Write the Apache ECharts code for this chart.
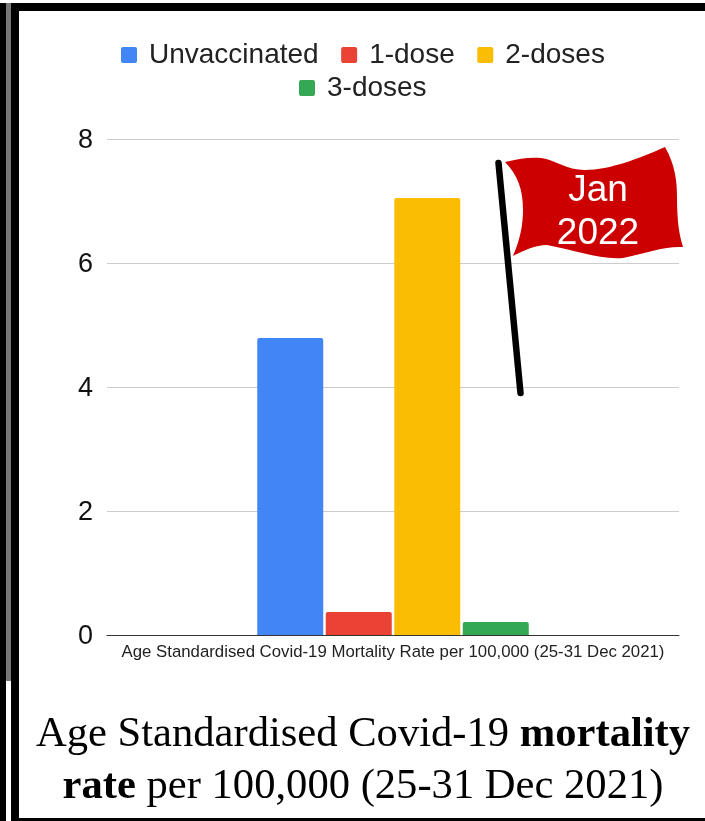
<!DOCTYPE html>
<html>
<head>
<meta charset="utf-8">
<style>html,body{margin:0;padding:0;background:#fff}#c{width:705px;height:821px}</style>
<script src="https://cdn.jsdelivr.net/npm/echarts@6/dist/echarts.min.js"></script>
</head>
<body>
<div id="c"></div>
<script>
const categories = ['Age Standardised Covid-19 Mortality Rate per 100,000 (25-31 Dec 2021)'];
const unvaccinated = [4.79];
const oneDose = [0.37];
const twoDoses = [7.05];
const threeDoses = [0.21];
const yTicks = [0, 2, 4, 6, 8];
const flagLabel = 'Jan\n2022';

const flagPath = 'M505 162 C520 158 532 157 541 158 C556 160 566 170 585 170 C610 170 640 158 665 147 ' +
  'C675 165 677 180 677 197 C677 220 679 235 683 247 C665 246 650 252 623 258 ' +
  'C600 260 575 250 547 245 C535 245 525 250 513 256 C520 240 523 225 523 210 C523 190 518 175 505 162 Z';
echarts.graphic.registerShape('flagShape', echarts.graphic.extendPath(flagPath));

const chart = echarts.init(document.getElementById('c'), null, {renderer: 'canvas'});
const bar = (name, data, color) => ({
  name, data, type: 'bar', barWidth: 66, barGap: '3.8%',
  itemStyle: {color, borderRadius: [2, 2, 0, 0]}
});
const legendBase = {
  icon: 'path://M2 0H14A2 2 0 0 1 16 2V14A2 2 0 0 1 14 16H2A2 2 0 0 1 0 14V2A2 2 0 0 1 2 0Z',
  itemWidth: 16, itemHeight: 16, itemGap: 22.5,
  textStyle: {fontFamily: 'Liberation Sans', fontSize: 28, color: '#222', padding: [0, 0, 0, 7]}
};
const black = {fill: '#000'};
chart.setOption({
  animation: false,
  backgroundColor: '#fff',
  grid: {left: 107, right: 26, top: 139, bottom: 186},
  legend: [
    Object.assign({}, legendBase, {data: ['Unvaccinated', '1-dose', '2-doses'], left: 116, top: 36}),
    Object.assign({}, legendBase, {data: ['3-doses'], left: 294, top: 69})
  ],
  title: {
    left: 358, textAlign: 'center', top: 704,
    text: '{a|Age Standardised Covid-19 }{b|mortality}\n{b|rate}{a| per 100,000 (25-31 Dec 2021)}',
    textStyle: {
      lineHeight: 52, fontWeight: 'normal',
      rich: {
        a: {fontFamily: 'Liberation Serif', fontSize: 42.6, fontWeight: 'normal', color: '#000', lineHeight: 52},
        b: {fontFamily: 'Liberation Serif', fontSize: 42.6, fontWeight: 'bold', color: '#000', lineHeight: 52}
      }
    }
  },
  xAxis: {
    type: 'category', data: categories,
    axisTick: {show: false},
    axisLine: {lineStyle: {color: '#333', width: 1}},
    axisLabel: {fontFamily: 'Liberation Sans', fontSize: 16.8, color: '#222', margin: 9, interval: 0}
  },
  yAxis: {
    type: 'value', min: yTicks[0], max: yTicks[yTicks.length - 1], interval: 2,
    axisLine: {show: false}, axisTick: {show: false},
    axisLabel: {
      margin: 14, formatter: '{v|{value}}',
      rich: {v: {fontFamily: 'Liberation Sans', fontSize: 27, color: '#111', padding: [4, 0, 0, 0]}}
    },
    splitLine: {lineStyle: {color: '#ccc', width: 1}}
  },
  series: [
    bar('Unvaccinated', unvaccinated, '#4285F4'),
    bar('1-dose', oneDose, '#EA4335'),
    bar('2-doses', twoDoses, '#FBBC04'),
    bar('3-doses', threeDoses, '#34A853')
  ],
  graphic: [
    {type: 'rect', z: 50, shape: {x: 0, y: 3, width: 6, height: 818}, style: black},
    {type: 'rect', z: 50, shape: {x: 6, y: 3, width: 5, height: 678}, style: {fill: '#777'}},
    {type: 'rect', z: 50, shape: {x: 11, y: 3, width: 8, height: 818}, style: black},
    {type: 'rect', z: 50, shape: {x: 11, y: 3, width: 694, height: 8}, style: black},
    {type: 'rect', z: 50, shape: {x: 11, y: 818, width: 694, height: 3}, style: black},
    {type: 'flagShape', z: 60, style: {fill: '#CC0000'}},
    {type: 'line', z: 61, shape: {x1: 498.5, y1: 163, x2: 520.5, y2: 393},
      style: {stroke: '#000', lineWidth: 6.5, lineCap: 'round'}},
    {type: 'text', z: 62, x: 598, y: 212, style: {
      text: flagLabel, fill: '#fff', fontFamily: 'Liberation Sans', fontSize: 37,
      lineHeight: 43, align: 'center', verticalAlign: 'middle', padding: [4, 0, 0, 0]}}
  ]
});
</script>
</body>
</html>
